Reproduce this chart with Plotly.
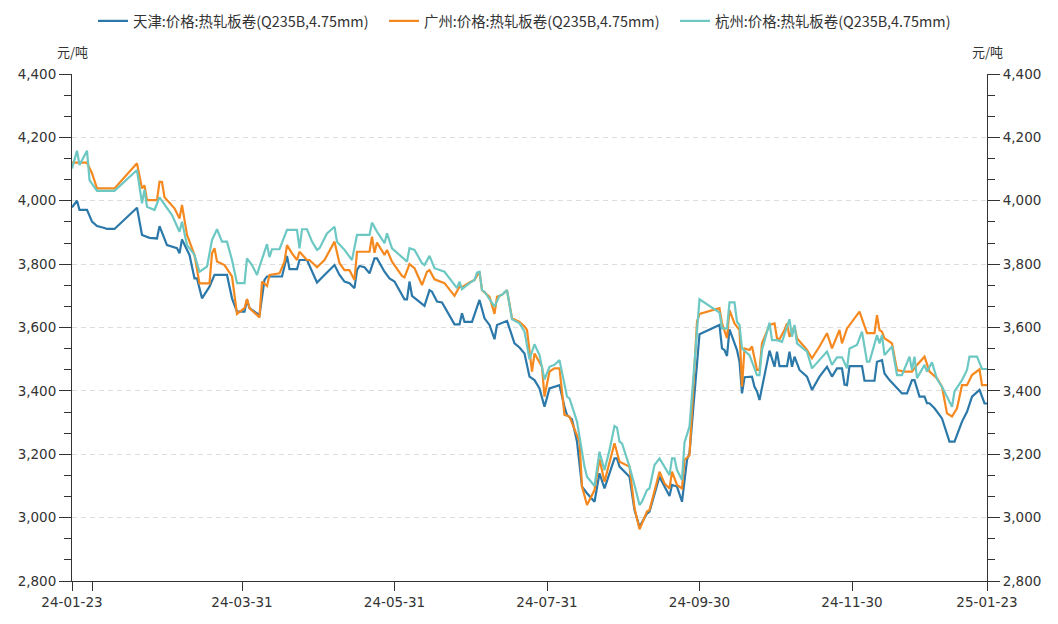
import plotly.graph_objects as go

# ---------------- data ----------------
tj_dates = ["2024-01-23","2024-01-25","2024-01-26","2024-01-29","2024-01-31","2024-02-02","2024-02-05","2024-02-06","2024-02-09","2024-02-18",
"2024-02-20","2024-02-23","2024-02-26","2024-02-27","2024-03-01","2024-03-05","2024-03-06","2024-03-07","2024-03-10","2024-03-12",
"2024-03-13","2024-03-15","2024-03-18","2024-03-20","2024-03-25","2024-03-27","2024-03-29","2024-04-01","2024-04-02","2024-04-03",
"2024-04-07","2024-04-09","2024-04-10","2024-04-16","2024-04-18","2024-04-19","2024-04-22","2024-04-23","2024-04-26","2024-04-30",
"2024-05-03","2024-05-07","2024-05-09","2024-05-11","2024-05-13","2024-05-15","2024-05-16","2024-05-17","2024-05-19","2024-05-21",
"2024-05-23","2024-05-24","2024-05-27","2024-05-29","2024-05-31","2024-06-04","2024-06-05","2024-06-06","2024-06-07","2024-06-12",
"2024-06-14","2024-06-15","2024-06-17","2024-06-19","2024-06-24","2024-06-26","2024-06-27","2024-06-28","2024-07-01","2024-07-04",
"2024-07-06","2024-07-08","2024-07-10","2024-07-11","2024-07-15","2024-07-18","2024-07-20","2024-07-22","2024-07-24","2024-07-26",
"2024-07-28","2024-07-30","2024-08-01","2024-08-02","2024-08-05","2024-08-07","2024-08-08","2024-08-10","2024-08-12","2024-08-14",
"2024-08-16","2024-08-19","2024-08-21","2024-08-23","2024-08-27","2024-08-28","2024-08-29","2024-09-02","2024-09-04","2024-09-06",
"2024-09-09","2024-09-10","2024-09-14","2024-09-16","2024-09-18","2024-09-19","2024-09-21","2024-09-23","2024-09-25","2024-09-26",
"2024-09-30","2024-10-08","2024-10-09","2024-10-10","2024-10-11","2024-10-12","2024-10-14","2024-10-15","2024-10-16","2024-10-17",
"2024-10-18","2024-10-21","2024-10-22","2024-10-23","2024-10-24","2024-10-26","2024-10-28","2024-10-30","2024-10-31","2024-11-01",
"2024-11-04","2024-11-05","2024-11-06","2024-11-07","2024-11-09","2024-11-12","2024-11-14","2024-11-17","2024-11-20","2024-11-22",
"2024-11-24","2024-11-26","2024-11-27","2024-11-28","2024-11-29","2024-12-04","2024-12-05","2024-12-09","2024-12-10","2024-12-12",
"2024-12-13","2024-12-15","2024-12-17","2024-12-20","2024-12-22","2024-12-24","2024-12-25","2024-12-27","2024-12-29","2024-12-30",
"2024-12-31","2025-01-02","2025-01-05","2025-01-08","2025-01-10","2025-01-13","2025-01-15","2025-01-17","2025-01-20","2025-01-22",
"2025-01-23"]
tj_values = [3979,4000,3971,3971,3934,3920,3914,3911,3911,3978,
3892,3883,3881,3920,3860,3850,3834,3878,3829,3755,
3755,3692,3729,3766,3766,3692,3650,3650,3687,3661,
3639,3750,3761,3761,3826,3784,3784,3813,3813,3742,
3766,3797,3766,3745,3740,3724,3781,3794,3790,3771,
3818,3818,3776,3755,3745,3689,3689,3745,3700,3668,
3718,3713,3682,3679,3610,3610,3645,3618,3618,3687,
3629,3608,3563,3608,3621,3550,3537,3518,3445,3434,
3408,3350,3408,3410,3418,3350,3324,3310,3240,3098,
3077,3050,3140,3092,3187,3187,3161,3129,3024,2971,
3013,3019,3129,3098,3068,3103,3098,3050,3182,3203,
3579,3608,3534,3529,3510,3594,3550,3529,3492,3392,
3443,3445,3413,3398,3371,3450,3527,3476,3524,3478,
3478,3524,3476,3508,3466,3445,3403,3445,3476,3445,
3471,3471,3420,3418,3478,3478,3432,3432,3492,3497,
3455,3434,3418,3392,3392,3434,3434,3382,3382,3361,
3361,3345,3313,3240,3240,3303,3334,3382,3403,3361,
3360]

gz_dates = ["2024-01-23","2024-01-29","2024-01-31","2024-02-02","2024-02-09","2024-02-18","2024-02-20","2024-02-21","2024-02-22","2024-02-26",
"2024-02-27","2024-02-28","2024-02-29","2024-03-04","2024-03-06","2024-03-07","2024-03-09","2024-03-12","2024-03-14","2024-03-18",
"2024-03-19","2024-03-20","2024-03-21","2024-03-24","2024-03-27","2024-03-29","2024-04-01","2024-04-02","2024-04-03","2024-04-07",
"2024-04-08","2024-04-10","2024-04-11","2024-04-15","2024-04-17","2024-04-18","2024-04-20","2024-04-22","2024-04-23","2024-04-26",
"2024-04-27","2024-04-30","2024-05-03","2024-05-07","2024-05-09","2024-05-11","2024-05-13","2024-05-15","2024-05-16","2024-05-21",
"2024-05-22","2024-05-23","2024-05-24","2024-05-27","2024-05-28","2024-05-30","2024-06-03","2024-06-04","2024-06-06","2024-06-08",
"2024-06-11","2024-06-13","2024-06-14","2024-06-16","2024-06-20","2024-06-24","2024-06-26","2024-06-27","2024-06-30","2024-07-02",
"2024-07-04","2024-07-05","2024-07-08","2024-07-10","2024-07-11","2024-07-13","2024-07-15","2024-07-17","2024-07-20","2024-07-22",
"2024-07-23","2024-07-25","2024-07-26","2024-07-29","2024-07-30","2024-08-01","2024-08-03","2024-08-05","2024-08-07","2024-08-09",
"2024-08-13","2024-08-14","2024-08-16","2024-08-19","2024-08-21","2024-08-23","2024-08-27","2024-08-29","2024-09-02","2024-09-04",
"2024-09-06","2024-09-09","2024-09-10","2024-09-14","2024-09-16","2024-09-18","2024-09-19","2024-09-21","2024-09-23","2024-09-24",
"2024-09-26","2024-09-29","2024-09-30","2024-10-08","2024-10-09","2024-10-11","2024-10-12","2024-10-14","2024-10-16","2024-10-17",
"2024-10-18","2024-10-20","2024-10-21","2024-10-23","2024-10-24","2024-10-25","2024-10-28","2024-10-30","2024-10-31","2024-11-01",
"2024-11-03","2024-11-04","2024-11-05","2024-11-07","2024-11-08","2024-11-12","2024-11-14","2024-11-17","2024-11-20","2024-11-22",
"2024-11-25","2024-11-26","2024-11-28","2024-12-03","2024-12-06","2024-12-09","2024-12-10","2024-12-11","2024-12-12","2024-12-13",
"2024-12-16","2024-12-18","2024-12-21","2024-12-24","2024-12-26","2024-12-29","2024-12-31","2025-01-03","2025-01-05","2025-01-07",
"2025-01-09","2025-01-11","2025-01-13","2025-01-15","2025-01-17","2025-01-20","2025-01-21","2025-01-23"]
gz_values = [4120,4120,4087,4039,4039,4118,4039,4048,4002,4002,
4060,4059,4011,3976,3944,3987,3892,3829,3739,3739,
3834,3850,3808,3797,3761,3643,3661,3690,3661,3632,
3745,3731,3766,3771,3808,3860,3834,3813,3839,3813,
3813,3790,3813,3871,3803,3781,3781,3750,3839,3839,
3887,3836,3868,3829,3845,3808,3763,3758,3800,3787,
3734,3776,3781,3752,3740,3700,3729,3727,3742,3750,
3776,3718,3697,3643,3697,3703,3718,3629,3618,3603,
3592,3461,3518,3476,3382,3461,3471,3471,3324,3319,
3240,3098,3040,3087,3185,3113,3235,3176,3161,3030,
2963,3019,3024,3145,3108,3092,3145,3103,3092,3182,
3197,3618,3643,3661,3613,3566,3655,3613,3592,3413,
3534,3529,3540,3466,3466,3550,3608,3613,3566,3563,
3592,3613,3571,3603,3566,3529,3503,3540,3582,3534,
3592,3550,3597,3650,3582,3582,3639,3592,3587,3566,
3550,3466,3461,3461,3482,3508,3461,3440,3413,3329,
3319,3345,3418,3418,3450,3468,3418,3418]

hz_dates = ["2024-01-23","2024-01-25","2024-01-26","2024-01-29","2024-01-30","2024-02-02","2024-02-09","2024-02-18","2024-02-20","2024-02-21",
"2024-02-22","2024-02-25","2024-02-27","2024-03-03","2024-03-06","2024-03-07","2024-03-09","2024-03-12","2024-03-14","2024-03-17",
"2024-03-19","2024-03-21","2024-03-23","2024-03-25","2024-03-27","2024-03-29","2024-04-01","2024-04-02","2024-04-04","2024-04-06",
"2024-04-07","2024-04-09","2024-04-10","2024-04-11","2024-04-12","2024-04-15","2024-04-17","2024-04-18","2024-04-22","2024-04-23",
"2024-04-24","2024-04-26","2024-04-28","2024-04-30","2024-05-01","2024-05-04","2024-05-07","2024-05-08","2024-05-11","2024-05-14",
"2024-05-16","2024-05-21","2024-05-22","2024-05-24","2024-05-27","2024-05-28","2024-05-30","2024-06-04","2024-06-05","2024-06-06",
"2024-06-08","2024-06-11","2024-06-12","2024-06-14","2024-06-16","2024-06-20","2024-06-25","2024-06-26","2024-06-27","2024-06-30",
"2024-07-02","2024-07-03","2024-07-04","2024-07-05","2024-07-06","2024-07-10","2024-07-12","2024-07-13","2024-07-15","2024-07-17",
"2024-07-20","2024-07-22","2024-07-24","2024-07-26","2024-07-28","2024-07-30","2024-08-01","2024-08-03","2024-08-05","2024-08-08",
"2024-08-09","2024-08-12","2024-08-15","2024-08-16","2024-08-19","2024-08-21","2024-08-23","2024-08-25","2024-08-27","2024-08-28",
"2024-08-29","2024-08-30","2024-09-02","2024-09-04","2024-09-06","2024-09-07","2024-09-09","2024-09-10","2024-09-12","2024-09-14",
"2024-09-16","2024-09-18","2024-09-19","2024-09-20","2024-09-21","2024-09-23","2024-09-24","2024-09-25","2024-09-26","2024-09-30",
"2024-10-08","2024-10-09","2024-10-11","2024-10-12","2024-10-14","2024-10-15","2024-10-16","2024-10-17","2024-10-20","2024-10-23",
"2024-10-24","2024-10-25","2024-10-28","2024-10-29","2024-10-31","2024-11-02","2024-11-05","2024-11-06","2024-11-07","2024-11-08",
"2024-11-12","2024-11-14","2024-11-17","2024-11-20","2024-11-22","2024-11-24","2024-11-26","2024-11-28","2024-11-29","2024-12-02",
"2024-12-04","2024-12-06","2024-12-07","2024-12-10","2024-12-11","2024-12-12","2024-12-13","2024-12-16","2024-12-18","2024-12-20",
"2024-12-23","2024-12-24","2024-12-25","2024-12-26","2024-12-29","2024-12-30","2025-01-01","2025-01-03","2025-01-05","2025-01-09",
"2025-01-10","2025-01-13","2025-01-15","2025-01-16","2025-01-19","2025-01-21","2025-01-23"]
hz_values = [4102,4158,4113,4158,4065,4031,4031,4097,3992,4035,
3981,3971,4011,3955,3902,3934,3860,3829,3776,3792,
3876,3910,3871,3871,3813,3740,3740,3818,3797,3766,
3792,3843,3863,3822,3847,3847,3887,3908,3908,3850,
3910,3910,3871,3845,3850,3897,3918,3871,3845,3813,
3892,3892,3931,3902,3866,3897,3850,3813,3808,3850,
3845,3803,3797,3826,3787,3776,3724,3745,3721,3740,
3750,3773,3776,3718,3713,3666,3700,3703,3718,3626,
3613,3587,3500,3547,3513,3436,3476,3482,3497,3382,
3376,3303,3161,3129,3100,3208,3150,3213,3289,3284,
3240,3234,3161,3103,3040,3050,3087,3092,3166,3187,
3161,3134,3187,3187,3150,3119,3237,3266,3287,3689,
3647,3597,3597,3679,3679,3618,3608,3534,3513,3450,
3450,3529,3615,3560,3560,3555,3626,3571,3608,3550,
3524,3471,3497,3524,3482,3506,3506,3471,3534,3545,
3587,3492,3492,3576,3550,3576,3513,3540,3450,3450,
3508,3466,3508,3440,3482,3461,3490,3437,3413,3350,
3398,3434,3466,3508,3508,3469,3469]

series_names = ["天津:价格:热轧板卷(Q235B,4.75mm)",
                "广州:价格:热轧板卷(Q235B,4.75mm)",
                "杭州:价格:热轧板卷(Q235B,4.75mm)"]
series_colors = ["#2b78a9", "#f5891f", "#6dc8c3"]

x_tick_vals = ["2024-01-23", "2024-01-31", "2024-03-31", "2024-05-31",
               "2024-07-31", "2024-09-30", "2024-11-30", "2025-01-23"]
x_tick_text = ["24-01-23", "", "24-03-31", "24-05-31",
               "24-07-31", "24-09-30", "24-11-30", "25-01-23"]
y_range = [2800, 4400]
unit_label = "元/吨"

# ---------------- figure ----------------
fig = go.Figure()
for d, v, name, col in zip([tj_dates, gz_dates, hz_dates],
                           [tj_values, gz_values, hz_values],
                           series_names, series_colors):
    fig.add_trace(go.Scatter(x=d, y=v, name=name, mode="lines",
                             line=dict(color=col, width=2.2),
                             hoverinfo="x+y+name"))

# invisible trace on right axis so it is drawn
fig.add_trace(go.Scatter(x=[tj_dates[0]], y=[tj_values[0]], yaxis="y2",
                         mode="lines", showlegend=False, hoverinfo="skip",
                         line=dict(color="rgba(0,0,0,0)")))

axis_col = "#333333"
tick_font = dict(family="DejaVu Sans, Noto Sans CJK SC", size=13.5, color="#333333")

yaxis_common = dict(
    range=y_range, dtick=200, tick0=2800, tickformat=",",
    ticks="outside", ticklen=12, tickcolor=axis_col, tickwidth=1,
    showline=True, linecolor=axis_col, linewidth=1,
    zeroline=False, tickfont=tick_font, fixedrange=True,
    minor=dict(dtick=200/3, ticks="outside", ticklen=7,
               tickcolor=axis_col, tickwidth=1, showgrid=False),
)

fig.update_layout(
    width=1058, height=624,
    margin=dict(l=72, r=71, t=74, b=43, autoexpand=False),
    paper_bgcolor="white", plot_bgcolor="white",
    font=dict(family="Noto Sans CJK SC, DejaVu Sans", size=13, color="#333333"),
    showlegend=True,
    legend=dict(orientation="h", x=0.5, xanchor="center", y=1.1045,
                yanchor="middle", font=dict(family="Noto Sans CJK SC", size=14.4,
                                            color="#333333"),
                bgcolor="rgba(0,0,0,0)", itemwidth=30, tracegroupgap=0,
                entrywidth=246, entrywidthmode="pixels"),
    xaxis=dict(type="date", range=[x_tick_vals[0], x_tick_vals[-1]],
               tickmode="array", tickvals=x_tick_vals, ticktext=x_tick_text,
               ticks="outside", ticklen=9, tickcolor=axis_col, tickwidth=1,
               showline=True, linecolor=axis_col, linewidth=1,
               showgrid=False, zeroline=False, tickfont=tick_font,
               fixedrange=True),
    yaxis=dict(**yaxis_common, side="left", showgrid=True,
               gridcolor="#dddddd", gridwidth=1, griddash="5px,4px"),
    yaxis2=dict(**yaxis_common, side="right", overlaying="y",
                anchor="x", showgrid=False),
    annotations=[
        dict(text=unit_label, xref="paper", yref="paper", x=0, y=1.0434,
             xanchor="center", yanchor="middle", showarrow=False,
             font=dict(family="Noto Sans CJK SC", size=13, color="#333333")),
        dict(text=unit_label, xref="paper", yref="paper", x=1, y=1.0434,
             xanchor="center", yanchor="middle", showarrow=False,
             font=dict(family="Noto Sans CJK SC", size=13, color="#333333")),
    ],
)

fig.write_html("out.html", config={"displayModeBar": False},
               post_script="document.body.style.margin='0';")
